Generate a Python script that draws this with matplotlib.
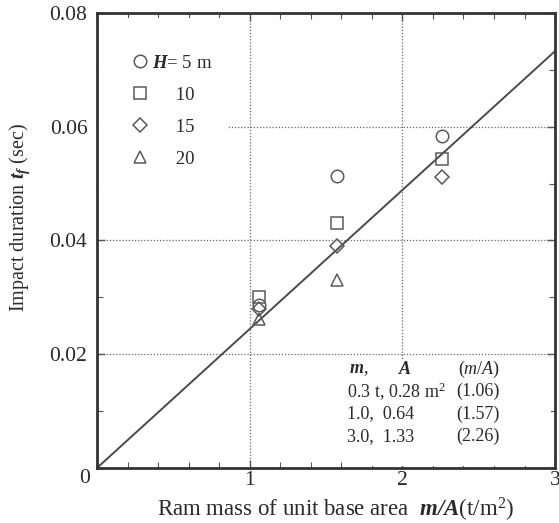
import matplotlib
matplotlib.use("Agg")
import matplotlib.pyplot as plt
from matplotlib.patches import Rectangle
from matplotlib.lines import Line2D
from matplotlib.ticker import MultipleLocator

# ---- data ----
mA = [1.06, 1.57, 2.26]
H5 = [0.0287, 0.0513, 0.0584]
H10 = [0.0301, 0.0431, 0.0543]
H15 = [0.0279, 0.0391, 0.0512]
mA20 = [1.06, 1.57]
H20 = [0.0262, 0.0331]
fit_x = [0.0, 3.0]
fit_y = [0.0, 0.0733]
legend_labels = [r"$\mathbfit{H}$= 5 m", "     10", "     15", "     20"]
xticks = [0, 1, 2, 3]
xtick_labels = ["", "1", "2", "3"]
yticks = [0.0, 0.02, 0.04, 0.06, 0.08]
ytick_labels = ["", "0.02", "0.04", "0.06", "0.08"]
table_header = [r"$\mathbfit{m}$,", r"$\mathbfit{A}$", r"$\mathit{(m/A)}$"]
table_rows = [("0.3 t, 0.28 m$^2$", "(1.06)"), ("1.0,  0.64", "(1.57)"), ("3.0,  1.33", "(2.26)")]

plt.rcParams["font.family"] = ["Liberation Serif", "DejaVu Serif"]
plt.rcParams["mathtext.fontset"] = "custom"
plt.rcParams["mathtext.rm"] = "Liberation Serif"
plt.rcParams["mathtext.it"] = "Liberation Serif:italic"
plt.rcParams["mathtext.bf"] = "Liberation Serif:bold"
plt.rcParams["mathtext.bfit"] = "Liberation Serif:bold:italic"

txt = "#2a2a2a"
mk = "#5a5a5a"

fig = plt.figure(figsize=(5.59, 5.23), dpi=100)
ax = fig.add_axes([0.1735, 0.1052, 0.8195, 0.870])
ax.set_xlim(0, 3)
ax.set_ylim(0, 0.08)
ax.set_axisbelow(True)

ax.grid(True, which="major", linestyle=(0, (1, 1.5)), color="#666666", linewidth=0.9)

ax.plot(fit_x, fit_y, color="#4a4a4a", linewidth=1.4, zorder=2)

ms = 9
kw = dict(linestyle="none", markerfacecolor="none", markeredgecolor=mk, markeredgewidth=1.1, zorder=3)
ax.plot(mA, H5, marker="o", markersize=ms, **kw)
ax.plot(mA, H10, marker="s", markersize=ms - 1, **kw)
ax.plot(mA, H15, marker="D", markersize=ms - 2, **kw)
ax.plot(mA20, H20, marker="^", markersize=ms - 1, **kw)

# white area behind legend (hides grid there)
ax.add_patch(Rectangle((0.004, 0.62), 0.282, 0.37, transform=ax.transAxes,
                       facecolor="white", edgecolor="none", zorder=1))
handles = [
    Line2D([], [], marker="o", markersize=ms, **kw),
    Line2D([], [], marker="s", markersize=ms - 1, **kw),
    Line2D([], [], marker="D", markersize=ms - 2, **kw),
    Line2D([], [], marker="^", markersize=ms - 1, **kw),
]
leg = ax.legend(handles, legend_labels, loc="upper left", bbox_to_anchor=(0.07, 0.917),
                frameon=False, fontsize=13.5, labelspacing=0.8, handlelength=0.8,
                handletextpad=0.25, borderpad=0.2, borderaxespad=0.0)
for t in leg.get_texts():
    t.set_color(txt)

# table box
ax.add_patch(Rectangle((0.54, 0.004), 0.45, 0.236, transform=ax.transAxes,
                       facecolor="white", edgecolor="none", zorder=1))
tfs = 13
ty = [0.0174, 0.0134, 0.0095, 0.0056]
ax.text(1.65, ty[0], table_header[0], fontsize=tfs, color=txt, va="center", ha="left", zorder=4)
ax.text(2.02, ty[0], table_header[1], fontsize=tfs, color=txt, va="center", ha="center", zorder=4)
ax.text(2.64, ty[0], table_header[2], fontsize=tfs, color=txt, va="center", ha="right", zorder=4)
for (a, b), y in zip(table_rows, ty[1:]):
    ax.text(1.635, y, a, fontsize=tfs, color=txt, va="center", ha="left", zorder=4)
    ax.text(2.64, y, b, fontsize=tfs, color=txt, va="center", ha="right", zorder=4)

ax.set_xticks(xticks)
ax.set_xticklabels(xtick_labels)
ax.set_yticks(yticks)
ax.set_yticklabels(ytick_labels)
ax.xaxis.set_minor_locator(MultipleLocator(0.2))
ax.yaxis.set_minor_locator(MultipleLocator(0.01))
ax.tick_params(which="both", direction="in", top=True, right=True, colors="#555555",
               labelcolor=txt, labelsize=15.5)
ax.tick_params(which="major", length=6, width=1.0)
ax.tick_params(axis="y", which="major", pad=7)
ax.tick_params(axis="x", which="major", pad=2)
ax.tick_params(which="minor", length=4, width=0.8)
# shared origin label
ax.annotate("0", xy=(0, 0), xytext=(-12, -11), textcoords="offset pixels",
            fontsize=15.5, color=txt, ha="center", va="center")

for s in ax.spines.values():
    s.set_linewidth(2.0)
    s.set_color("#333333")

ax.set_xlabel(r"Ram mass of unit base area  $\mathbfit{m/A}$(t/m$^2$)", fontsize=16.5, color=txt)
ax.xaxis.set_label_coords(0.52, -0.062)
ax.set_ylabel(r"Impact duration $\mathbfit{t_f}$ (sec)", fontsize=14.5, color=txt)
ax.yaxis.set_label_coords(-0.142, 0.55)

fig.savefig("out.png", dpi=100, facecolor="white")
